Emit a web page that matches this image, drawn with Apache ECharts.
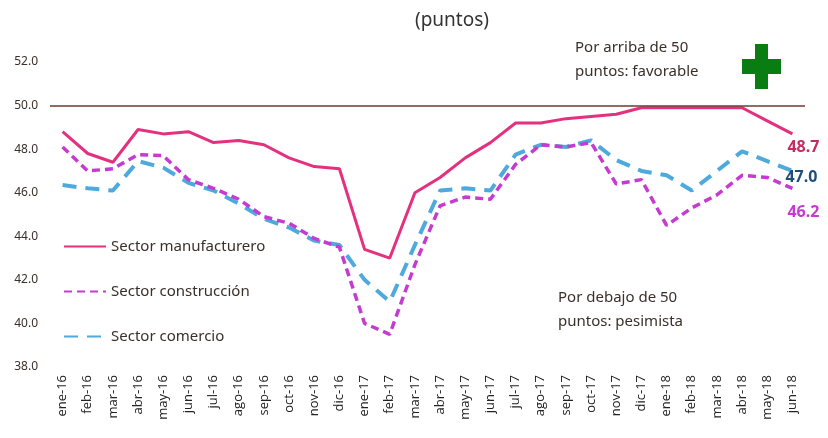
<!DOCTYPE html>
<html>
<head>
<meta charset="utf-8">
<script src="https://cdn.jsdelivr.net/npm/echarts@6/dist/echarts.min.js"></script>
<style>
  html, body { margin: 0; padding: 0; background: #fff; }
  #chart { width: 828px; height: 438px; }
</style>
</head>
<body>
<div id="chart"></div>
<script>
var months = ['ene-16','feb-16','mar-16','abr-16','may-16','jun-16','jul-16','ago-16','sep-16','oct-16','nov-16','dic-16',
  'ene-17','feb-17','mar-17','abr-17','may-17','jun-17','jul-17','ago-17','sep-17','oct-17','nov-17','dic-17',
  'ene-18','feb-18','mar-18','abr-18','may-18','jun-18'];

var manufacturero = [48.8, 47.8, 47.4, 48.9, 48.7, 48.8, 48.3, 48.4, 48.2, 47.6, 47.2, 47.1,
  43.4, 43.0, 46.0, 46.7, 47.6, 48.3, 49.2, 49.2, 49.4, 49.5, 49.6, 49.9,
  49.9, 49.9, 49.9, 49.9, 49.3, 48.7];
var construccion = [48.1, 47.0, 47.1, 47.75, 47.7, 46.6, 46.2, 45.7, 44.9, 44.6, 43.9, 43.5,
  40.0, 39.5, 42.7, 45.4, 45.8, 45.7, 47.3, 48.2, 48.1, 48.3, 46.4, 46.6,
  44.5, 45.3, 45.9, 46.8, 46.7, 46.2];
var comercio = [46.35, 46.2, 46.1, 47.45, 47.15, 46.45, 46.1, 45.5, 44.8, 44.4, 43.8, 43.6,
  42.0, 41.0, 43.6, 46.1, 46.2, 46.1, 47.75, 48.2, 48.1, 48.4, 47.5, 47.0,
  46.8, 46.1, 47.0, 47.9, 47.45, 47.0];

var yTicks = [38, 40, 42, 44, 46, 48, 50, 52];
var umbral = 50;

var fontFam = '"Noto Sans", sans-serif';

// etiqueta al final de cada línea
function endLabel(color, offset) {
  return {
    show: true,
    offset: offset,
    formatter: function (p) { return p.value.toFixed(1); },
    color: color,
    fontSize: 16,
    fontWeight: 'bold',
    fontFamily: fontFam
  };
}

var chart = echarts.init(document.getElementById('chart'));
chart.setOption({
  animation: false,
  backgroundColor: '#fff',
  textStyle: { fontFamily: fontFam },
  title: {
    text: '(puntos)',
    left: 447,
    top: 6,
    textAlign: 'center',
    textStyle: { fontSize: 19, fontWeight: 'normal', color: '#333', fontFamily: fontFam }
  },
  legend: {
    orient: 'vertical',
    left: 58,
    top: 234,
    itemWidth: 42,
    itemHeight: 10,
    itemGap: 30,
    itemStyle: { opacity: 0 },
    textStyle: { fontSize: 15, color: '#3a2f2a', fontFamily: fontFam },
    data: ['Sector manufacturero', 'Sector construcción', 'Sector comercio']
  },
  grid: { left: 50, right: 23, top: 62, bottom: 71 },
  xAxis: {
    type: 'category',
    data: months,
    boundaryGap: true,
    axisLine: { show: false },
    axisTick: { show: false },
    axisLabel: {
      rotate: 90,
      interval: 0,
      fontSize: 13,
      color: '#222',
      margin: 8,
      fontFamily: 'Open Sans, sans-serif'
    }
  },
  yAxis: {
    type: 'value',
    min: yTicks[0],
    max: yTicks[yTicks.length - 1],
    interval: 2,
    axisLine: { show: false },
    axisTick: { show: false },
    splitLine: { show: false },
    axisLabel: {
      fontSize: 12,
      color: '#3a2f2a',
      margin: 12,
      formatter: function (v) { return v.toFixed(1); }
    }
  },
  graphic: [
    {
      type: 'text', left: 575, top: 36,
      style: { text: 'Por arriba de 50\npuntos: favorable', fontSize: 15, lineHeight: 24, fill: '#3a2f2a', fontFamily: fontFam }
    },
    {
      type: 'text', left: 558, top: 286,
      style: { text: 'Por debajo de 50\npuntos: pesimista', fontSize: 15, lineHeight: 24, fill: '#3a2f2a', fontFamily: fontFam }
    },
    { type: 'rect', shape: { x: 755, y: 44, width: 13, height: 45 }, style: { fill: '#0a7d12' } },
    { type: 'rect', shape: { x: 742, y: 59, width: 39, height: 15 }, style: { fill: '#0a7d12' } }
  ],
  series: [
    {
      name: 'Sector manufacturero',
      type: 'line',
      symbol: 'none',
      color: '#e4317f',
      lineStyle: { width: 3, color: '#e4317f' },
      data: manufacturero,
      endLabel: endLabel('#c62a63', [-13, 14]),
      markLine: {
        silent: true,
        symbol: 'none',
        label: { show: false },
        lineStyle: { color: '#6b3b30', width: 1.5, type: 'solid' },
        data: [{ yAxis: umbral }]
      },
      z: 3
    },
    {
      name: 'Sector construcción',
      type: 'line',
      symbol: 'none',
      color: '#c63ad2',
      lineStyle: { width: 3.5, color: '#c63ad2', type: [8, 5] },
      data: construccion,
      endLabel: endLabel('#c63ad2', [-13, 24]),
      z: 2
    },
    {
      name: 'Sector comercio',
      type: 'line',
      symbol: 'none',
      color: '#4ea9dd',
      lineStyle: { width: 4, color: '#4ea9dd', type: [14, 9] },
      data: comercio,
      endLabel: endLabel('#1f4e79', [-15, 7]),
      z: 1
    }
  ]
});
</script>
</body>
</html>
